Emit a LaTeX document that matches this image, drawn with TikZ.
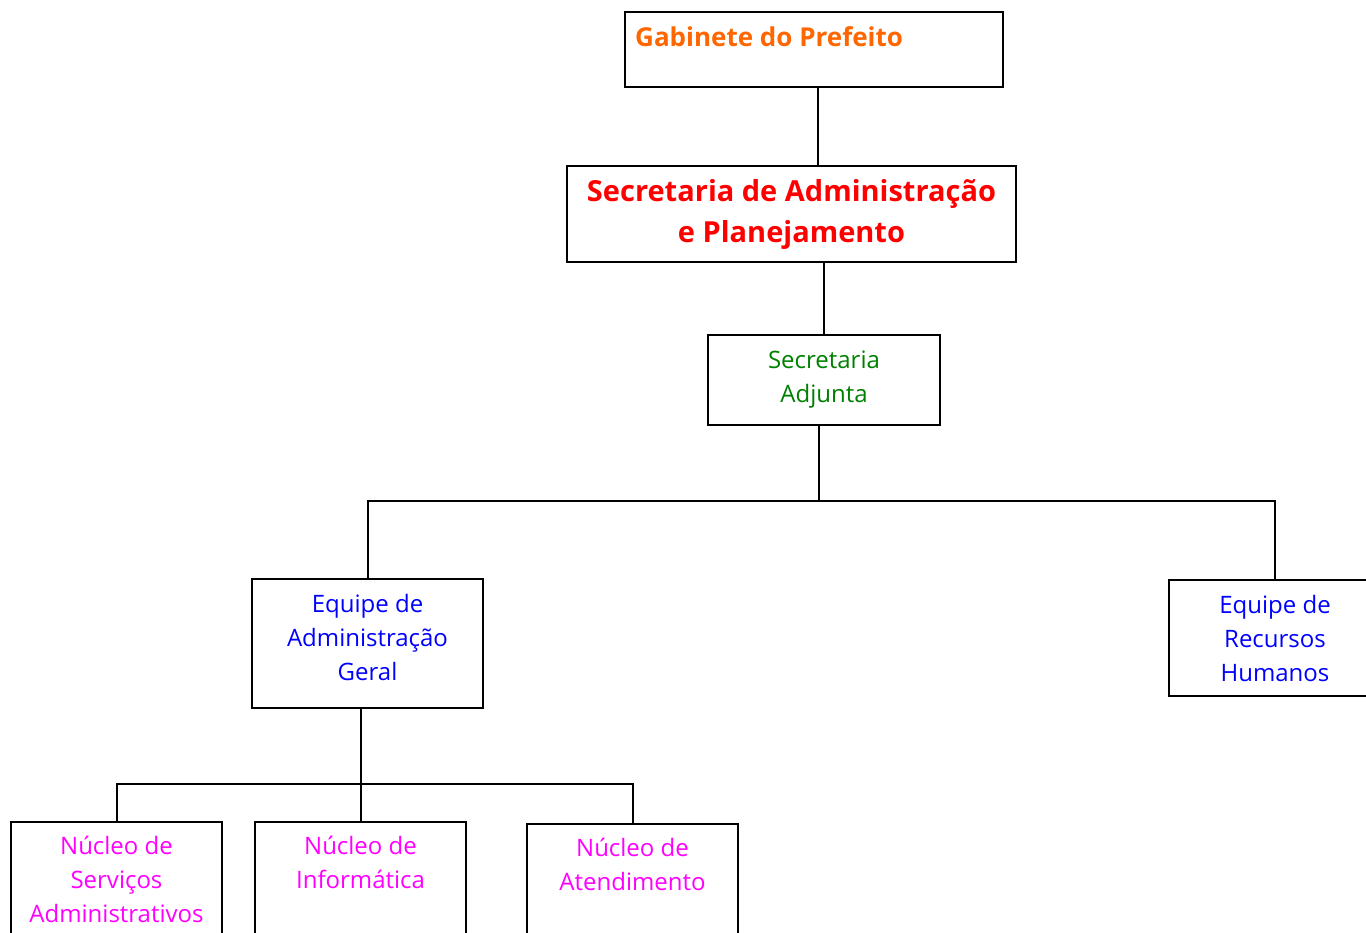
\documentclass[tikz,border=0pt]{standalone}
\usepackage{fontspec}
\setmainfont{Open Sans}
\definecolor{gabcol}{RGB}{255,102,0}
\definecolor{seccol}{RGB}{255,0,0}
\definecolor{adjcol}{RGB}{0,128,0}
\definecolor{eqcol}{RGB}{0,0,255}
\definecolor{nucol}{RGB}{255,0,255}
\tikzset{
  box/.style={draw=black, line width=2pt, rectangle, inner sep=0pt},
  link/.style={draw=black, line width=2pt},
  plain/.style={font=\fontsize{24}{34}\selectfont, align=center},
  strong/.style={font=\bfseries\fontsize{29}{41}\selectfont, align=center},
}
\begin{document}
\begin{tikzpicture}[x=1pt, y=-1pt]
\useasboundingbox (0,0) rectangle (1366,933);
\clip (0,0) rectangle (1366,933);

% top of the chart
\node[box, minimum width=378pt, minimum height=75pt] (gab) at (814,49.5) {};
\node[anchor=base west, font=\bfseries\fontsize{26}{30}\selectfont, text=gabcol, inner sep=0pt] (gabtxt) at (635,47) {Gabinete do Prefeito};

\node[box, strong, text=seccol, minimum width=449pt, minimum height=96pt] (sec) at (791.5,214) {Secretaria de Administração\\e Planejamento};

\node[box, plain, text=adjcol, minimum width=232pt, minimum height=90pt] (adj) at (824,380) {Secretaria\\Adjunta};

% teams
\node[box, minimum width=231pt, minimum height=129pt] (eqa) at (367.5,643.5) {};
\node[plain, text=eqcol, inner sep=0pt] (eqatxt) at (367.5,637) {Equipe de\\Administração\\Geral};
\node[box, plain, text=eqcol, minimum width=212pt, minimum height=116pt] (eqr) at (1275,638) {Equipe de\\Recursos\\Humanos};

% units
\node[box, minimum width=211pt, minimum height=160pt] (n1) at (116.5,902) {};
\node[box, minimum width=211pt, minimum height=160pt] (n2) at (360.5,902) {};
\node[box, minimum width=211pt, minimum height=160pt] (n3) at (632.5,904) {};
\node[plain, text=nucol, anchor=north, inner sep=0pt] (n1txt) at (116.5,836) {Núcleo de\\Serviços\\Administrativos};
\node[plain, text=nucol, anchor=north, inner sep=0pt] (n2txt) at (360.5,836) {Núcleo de\\Informática};
\node[plain, text=nucol, anchor=north, inner sep=0pt] (n3txt) at (632.5,838) {Núcleo de\\Atendimento};

% junction rails
\coordinate (busA) at (819,501);
\coordinate (busB) at (360,784);

% connectors
\draw[link] (gab.south -| 818,0) -- (sec.north -| 818,0);
\draw[link] (adj.north |- sec.south) -- (adj.north);
\draw[link] (adj.south -| busA) -- (busA);
\draw[link] (eqa.north) -- (eqa.north |- busA) -- (eqr.north |- busA) -- (eqr.north);
\draw[link] (n2.north |- eqa.south) -- (n2.north);
\draw[link] (n1.north) -- (n1.north |- busB) -- (n3.north |- busB) -- (n3.north);
\end{tikzpicture}
\end{document}
